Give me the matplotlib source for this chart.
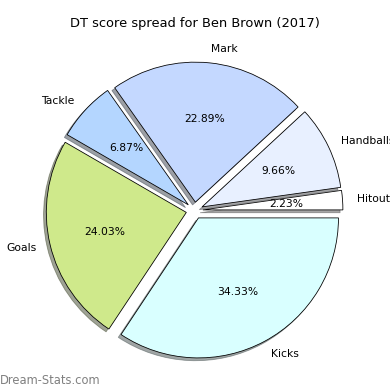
import matplotlib.pyplot as plt

labels = ['Hitout', 'Handballs', 'Mark', 'Tackle', 'Goals', 'Kicks']
values = [2.23, 9.66, 22.89, 6.87, 24.03, 34.33]
colours = ['#ffffff', '#e8f0ff', '#c4d8ff', '#b4d6ff', '#cfe98b', '#d9ffff']
explode = [0.06] * len(values)

fig = plt.figure(figsize=(390/72, 390/72), dpi=72)
ax = fig.add_axes([0, 0, 1, 1])

ax.pie(values, labels=labels, colors=colours, explode=explode,
       autopct='%.2f%%', shadow=True, startangle=0,
       wedgeprops={'edgecolor': 'black', 'linewidth': 0.8},
       textprops={'fontsize': 10.8})

# place the pie: centre at about (194.5, 210.5) px, radius about 140 px
scale = 140.0
cx, cy = 194.5, 210.5
ax.set_aspect('equal')
ax.set_xlim(-cx/scale, (390-cx)/scale)
ax.set_ylim(-(390-cy)/scale, cy/scale)
ax.axis('off')

fig.text(0.5, 1 - 24/390, 'DT score spread for Ben Brown (2017)',
         ha='center', va='center', fontsize=13)
fig.text(0.0, 1 - 380/390, 'Dream-Stats.com', ha='left', va='center',
         fontsize=11.5, color='#808080')

fig.savefig('out.png', dpi=72)
